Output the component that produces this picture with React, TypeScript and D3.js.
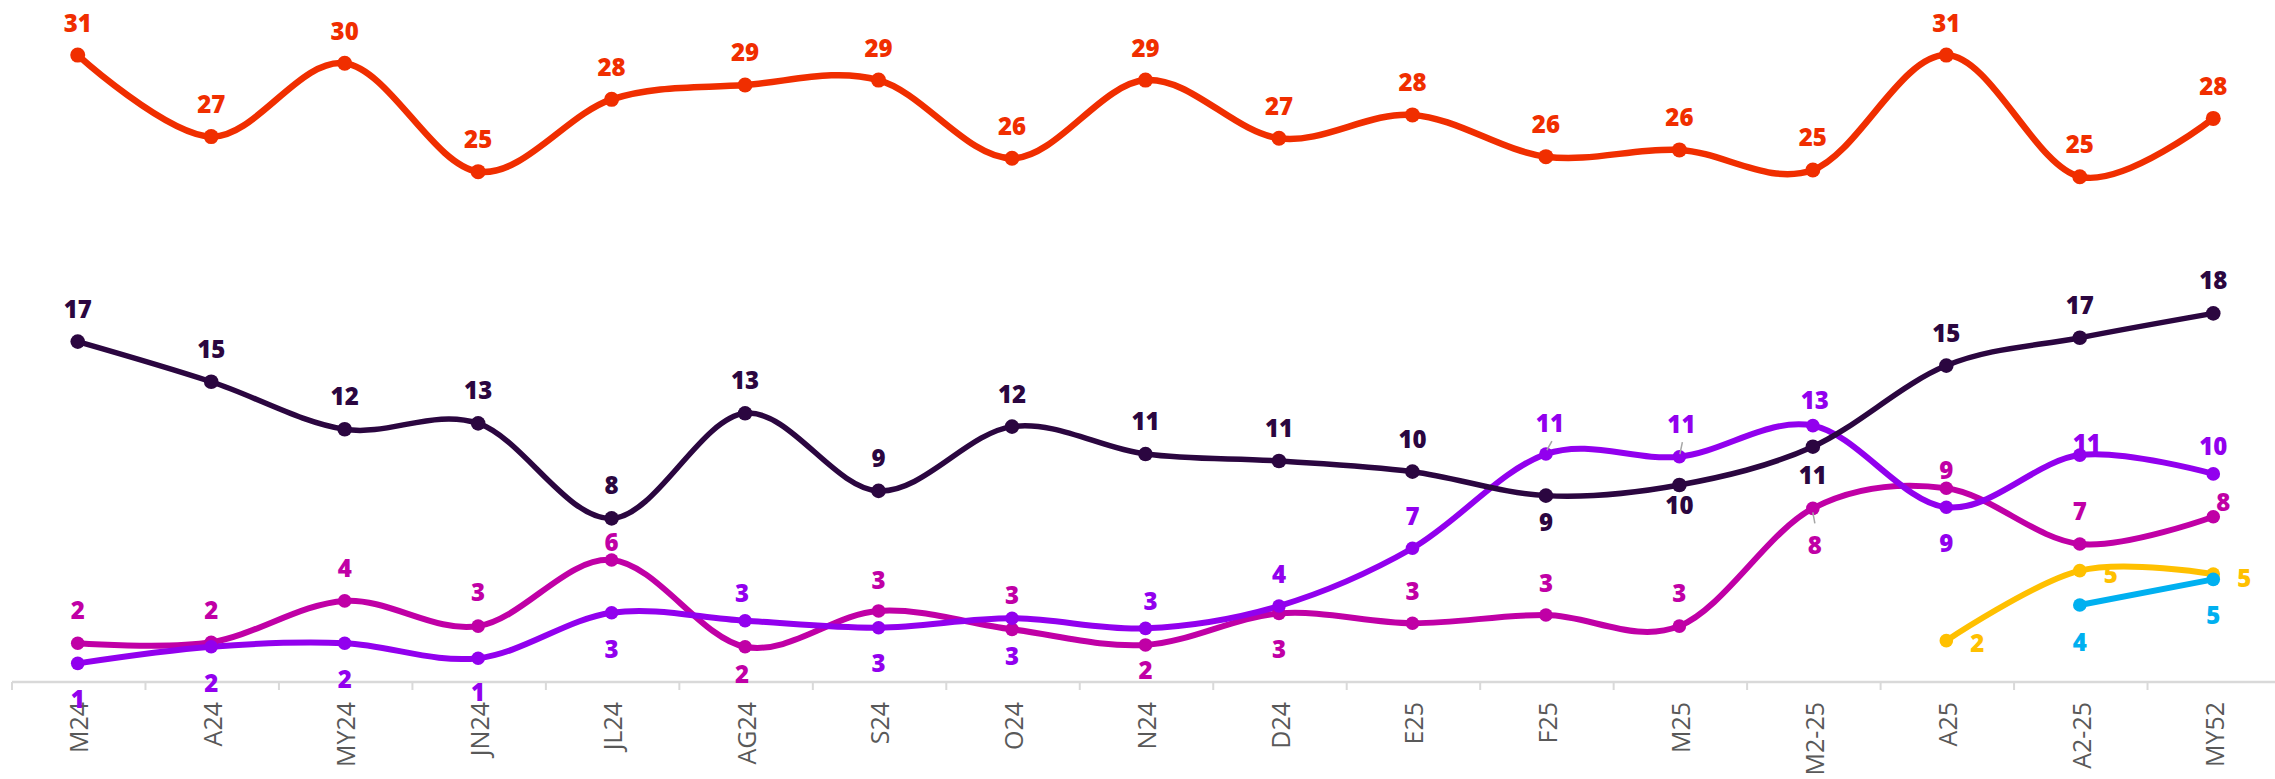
import React from "react";
import * as d3 from "d3";

const categories = ["M24","A24","MY24","JN24","JL24","AG24","S24","O24","N24","D24","E25","F25","M25","M2-25","A25","A2-25","MY52"];

const seriesRed = [30.61,26.63,30.21,24.92,28.45,29.15,29.39,25.57,29.39,26.55,27.69,25.65,25.98,25.0,30.61,24.67,27.52];
const seriesDark = [16.62,14.66,12.34,12.63,7.99,13.12,9.33,12.47,11.13,10.79,10.27,9.1,9.62,11.49,15.45,16.81,18.0];
const seriesViolet = [0.91,1.72,1.89,1.16,3.38,2.99,2.65,3.11,2.62,3.71,6.53,11.13,11.0,12.52,8.53,11.08,10.16];
const seriesMagenta = [1.89,1.94,3.96,2.73,5.96,1.72,3.47,2.57,1.81,3.35,2.87,3.27,2.73,8.48,9.46,6.74,8.07];
const seriesYellow = [null,null,null,null,null,null,null,null,null,null,null,null,null,null,2.02,5.44,5.27];
const seriesBlue = [null,null,null,null,null,null,null,null,null,null,null,null,null,null,null,3.76,5.01];

// label placement (dx, dy of text baseline relative to the point) — styling only
const A = [0, -23.5];
const labelsRed = categories.map(() => A);
const labelsDark = categories.map((c) => (c === "F25" ? [0, 35] : c === "M25" ? [0, 29] : c === "M2-25" ? [0, 37] : [0, -24]));
const labelsViolet = [[0,45],[0,45],[0,45],[0,43],[0,45.5],[-3,-19],[0,44],[0,46.5],[5,-18],[0,-23],[0,-23],[4,-22],[2,-24],[2,-17],[0,44.5],[7,-3.5],[0,-19]];
const labelsMagenta = [[0,-24],[0,-23],[0,-24],[0,-25],[0,-8.5],[-3,36.5],[0,-22],[0,-25],[0,34],[0,45],[0,-23],[0,-23],[0,-24],[2,45.5],[0,-9],[0,-24],[10,-6]];
const labelsYellow = categories.map((c, i) => (i === 14 ? [31, 11] : i === 15 ? [31, 12] : [31, 12.7]));
const labelsBlue = categories.map((c, i) => (i === 15 ? [0, 46.5] : [0, 45]));

// leader lines: [seriesKey, index, x1, y1, x2, y2] relative to the point
const leaders = [
  ["violet", 11, 1, -4, 6, -13],
  ["violet", 12, 0.5, -2.5, 3, -14.5],
  ["magenta", 13, 0, 4, 2, 15],
];

const W = 2275;
const H = 779;

export default function App() {
  if (typeof document !== "undefined") document.body.style.margin = "0";

  const x = d3.scaleBand<string>().domain(categories).range([11, 2280]).paddingInner(0).paddingOuter(0);
  const y = d3.scaleLinear().domain([0, 33.3]).range([682, 0]);
  const cx = (i: number) => (x(categories[i]) as number) + x.bandwidth() / 2;

  const series = [
    { key: "magenta", values: seriesMagenta, color: "#c000a6", width: 6, r: 6.8, labels: labelsMagenta },
    { key: "violet", values: seriesViolet, color: "#9200ee", width: 6, r: 6.8, labels: labelsViolet },
    { key: "dark", values: seriesDark, color: "#2b0640", width: 5.5, r: 7.3, labels: labelsDark },
    { key: "red", values: seriesRed, color: "#f02e00", width: 6.5, r: 7.5, labels: labelsRed },
    { key: "yellow", values: seriesYellow, color: "#ffc000", width: 6, r: 6.8, labels: labelsYellow },
    { key: "blue", values: seriesBlue, color: "#00b0f0", width: 6, r: 6.8, labels: labelsBlue },
  ];

  const line = d3
    .line<[number, number | null]>()
    .defined((d) => d[1] != null)
    .x((d) => cx(d[0]))
    .y((d) => y(d[1] as number))
    .curve(d3.curveCardinal.tension(0));

  const font = "'Open Sans', 'Noto Sans', sans-serif";
  const ticks = d3.range(categories.length + 1).map((i) => 11 + i * x.step());

  return (
    <svg width={W} height={H} style={{ display: "block" }}>
      <rect width={W} height={H} fill="#ffffff" />
      {/* axis */}
      <line x1={12} x2={W} y1={682} y2={682} stroke="#d9d9d9" strokeWidth={2.5} />
      {ticks.map((t, i) => (
        <line key={"t" + i} x1={t + 1} x2={t + 1} y1={682} y2={690} stroke="#d9d9d9" strokeWidth={2} />
      ))}
      {categories.map((c, i) => (
        <text
          key={"c" + c}
          transform={`translate(${cx(i)},702) rotate(-90)`}
          textAnchor="end"
          dy="0.43em"
          fontFamily={font}
          fontSize={25}
          fill="#595959"
        >
          {c}
        </text>
      ))}
      {/* lines */}
      {series.map((s) => (
        <path
          key={"l" + s.key}
          d={line(s.values.map((v, i) => [i, v]) as [number, number | null][]) || ""}
          fill="none"
          stroke={s.color}
          strokeWidth={s.width}
          strokeLinecap="round"
          strokeLinejoin="round"
        />
      ))}
      {/* markers */}
      {series.map((s) =>
        s.values.map((v, i) =>
          v == null ? null : <circle key={"m" + s.key + i} cx={cx(i)} cy={y(v)} r={s.r} fill={s.color} />
        )
      )}
      {/* leaders */}
      {leaders.map((l, j) => {
        const s = series.find((ss) => ss.key === l[0])!;
        const i = l[1] as number;
        const px = cx(i);
        const py = y(s.values[i] as number);
        return (
          <line
            key={"ld" + j}
            x1={px + (l[2] as number)}
            y1={py + (l[3] as number)}
            x2={px + (l[4] as number)}
            y2={py + (l[5] as number)}
            stroke="#a6a6a6"
            strokeWidth={1.5}
          />
        );
      })}
      {/* labels */}
      {series.map((s) =>
        s.values.map((v, i) =>
          v == null ? null : (
            <text
              key={"v" + s.key + i}
              x={cx(i) + s.labels[i][0]}
              y={y(v) + s.labels[i][1]}
              textAnchor="middle"
              fontFamily={font}
              fontWeight={800}
              fontSize={24}
              fill={s.color}
            >
              {Math.round(v)}
            </text>
          )
        )
      )}
    </svg>
  );
}
